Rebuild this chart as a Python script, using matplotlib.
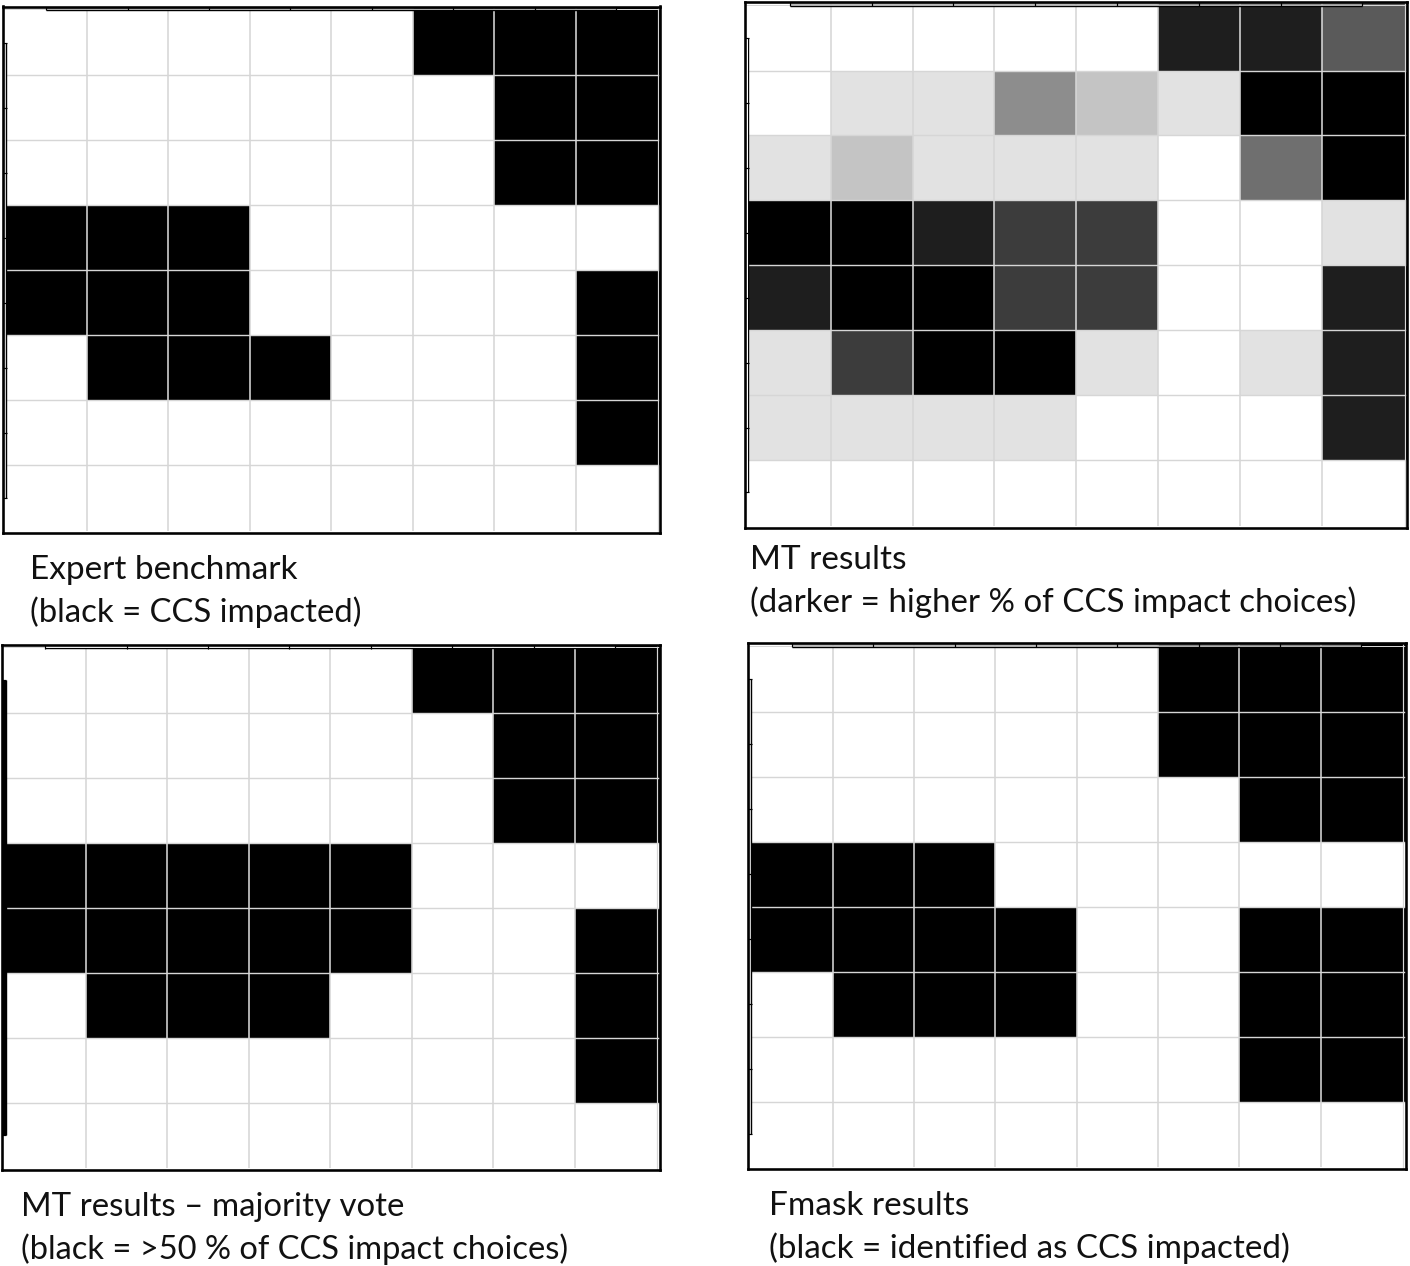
import matplotlib
matplotlib.use("Agg")
import matplotlib.pyplot as plt
from matplotlib.colors import ListedColormap, BoundaryNorm
import numpy as np

expert = [
    [0,0,0,0,0,1,1,1],
    [0,0,0,0,0,0,1,1],
    [0,0,0,0,0,0,1,1],
    [1,1,1,0,0,0,0,0],
    [1,1,1,0,0,0,0,1],
    [0,1,1,1,0,0,0,1],
    [0,0,0,0,0,0,0,1],
    [0,0,0,0,0,0,0,0],
]
# number of "CCS impacted" choices out of 9
mt_votes = [
    [0,0,0,0,0,8,8,6],
    [0,1,1,4,2,1,9,9],
    [1,2,1,1,1,0,5,9],
    [9,9,8,7,7,0,0,1],
    [8,9,9,7,7,0,0,8],
    [1,7,9,9,1,0,1,8],
    [1,1,1,1,0,0,0,8],
    [0,0,0,0,0,0,0,0],
]
majority = [
    [0,0,0,0,0,1,1,1],
    [0,0,0,0,0,0,1,1],
    [0,0,0,0,0,0,1,1],
    [1,1,1,1,1,0,0,0],
    [1,1,1,1,1,0,0,1],
    [0,1,1,1,0,0,0,1],
    [0,0,0,0,0,0,0,1],
    [0,0,0,0,0,0,0,0],
]
fmask = [
    [0,0,0,0,0,1,1,1],
    [0,0,0,0,0,1,1,1],
    [0,0,0,0,0,0,1,1],
    [1,1,1,0,0,0,0,0],
    [1,1,1,1,0,0,1,1],
    [0,1,1,1,0,0,1,1],
    [0,0,0,0,0,0,1,1],
    [0,0,0,0,0,0,0,0],
]
captions = [
    ["Expert benchmark", "(black = CCS impacted)"],
    ["MT results", "(darker = higher % of CCS impact choices)"],
    ["MT results \u2013 majority vote", "(black = >50 % of CCS impact choices)"],
    ["Fmask results", "(black = identified as CCS impacted)"],
]
grey_levels = ["#ffffff","#e2e2e2","#c4c4c4","#a8a8a8","#8d8d8d",
               "#6f6f6f","#5a5a5a","#3c3c3c","#1e1e1e","#000000"]

W, H = 1410, 1266
plt.rcParams["font.family"] = ["Lato", "DejaVu Sans"]
fig = plt.figure(figsize=(W/100, H/100), dpi=100, facecolor="white")
cmap = ListedColormap(grey_levels)
norm = BoundaryNorm(np.arange(-0.5, 10.5), 10)
GRID = "#d6d6d6"
PX = 0.72  # points per pixel

panels = [
    dict(m=np.array(expert)*9, box=(2.7,660.2,6.5,532.5), inner=(86.8,575.5,75,465), cap=(30,579,622),
         sizes=(24,23.7), left="#c8c8c8", top="#888888", leftw=2),
    dict(m=np.array(mt_votes), box=(744.8,1407,2,527.5), inner=(830.8,1321.5,70.5,460), cap=(750,569,612),
         sizes=(24,23.8), left="#ffffff", top="#aaaaaa", leftw=2),
    dict(m=np.array(majority)*9, box=(2.3,659.7,644.5,1170), inner=(85.8,574.5,712.7,1102.7), cap=(21,1216,1259),
         sizes=(23.8,23.5), left="#000000", top="#ffffff", leftw=4),
    dict(m=np.array(fmask)*9, box=(747.5,1405.5,643.5,1169), inner=(832.8,1320.5,711.7,1101.7), cap=(769,1215,1258),
         sizes=(24,23.9), left="#c8c8c8", top="#aaaaaa", leftw=2),
]

for idx, p in enumerate(panels):
    L, R, T, B = p["box"]
    x1, x7, y1, y7 = p["inner"]
    ax = fig.add_axes([L/W, 1-B/H, (R-L)/W, (B-T)/H])
    ux, uy = (x7-x1)/6, (y7-y1)/6
    x0, x8 = 1-(x1-L)/ux, 7+(R-x7)/ux
    y0, y8 = 1-(y1-T)/uy, 7+(B-y7)/uy
    xe = np.r_[x0, np.arange(1, 8), x8]
    ye = np.r_[y0, np.arange(1, 8), y8]
    ax.pcolormesh(xe, ye, p["m"], cmap=cmap, norm=norm, zorder=1)
    ax.set_xlim(x0, x8)
    ax.set_ylim(y8, y0)
    ax.set_xticks([]); ax.set_yticks([])
    for k in range(1, 8):
        ax.plot([k, k], [y0, y8-2/uy], color=GRID, lw=1.6*PX, zorder=2, solid_capstyle="butt")
        ax.plot([x0, x8], [k, k], color=GRID, lw=1.4*PX, zorder=2, solid_capstyle="butt")
    # pale inner rim on the right and top of the frame
    ax.plot([x8-2.5/ux]*2, [y0, y8], color=GRID, lw=1.2*PX, zorder=2)
    ax.plot([x0, x8], [y0+2.5/uy]*2, color=GRID, lw=1.0*PX, zorder=2)
    # stray axis lines with ticks at cell centres
    centers = np.arange(8)+0.5
    ax.plot([centers[0], centers[-1]], [y0+3.5/uy]*2, color="#000000", lw=1.4*PX, zorder=3, solid_capstyle="butt")
    ax.plot([centers[0], centers[-1]], [y0+2/uy]*2, color=p["top"], lw=1.6*PX, zorder=4, solid_capstyle="butt")
    ax.plot([x0+3.5/ux]*2, [centers[0], centers[-1]], color="#000000", lw=1.4*PX, zorder=3, solid_capstyle="butt")
    ax.plot([x0+2/ux]*2, [centers[0], centers[-1]], color=p["left"], lw=p["leftw"]*PX, zorder=4, solid_capstyle="butt")
    for c in centers:
        ax.plot([c, c], [y0, y0+4/uy], color="#000000", lw=1.2*PX, zorder=5, solid_capstyle="butt")
        ax.plot([x0, x0+4/ux], [c, c], color="#000000", lw=1.2*PX, zorder=5, solid_capstyle="butt")
    for s in ax.spines.values():
        s.set_linewidth(2.6*PX)
        s.set_color("#000000")
        s.set_zorder(6)
    cx, b1, b2 = p["cap"]
    for txt, b, fs in zip(captions[idx], (b1, b2), p["sizes"]):
        fig.text(cx/W, 1-b/H, txt, fontsize=fs, color="#111111", ha="left", va="baseline")

fig.savefig("out.png", dpi=100, facecolor="white")
